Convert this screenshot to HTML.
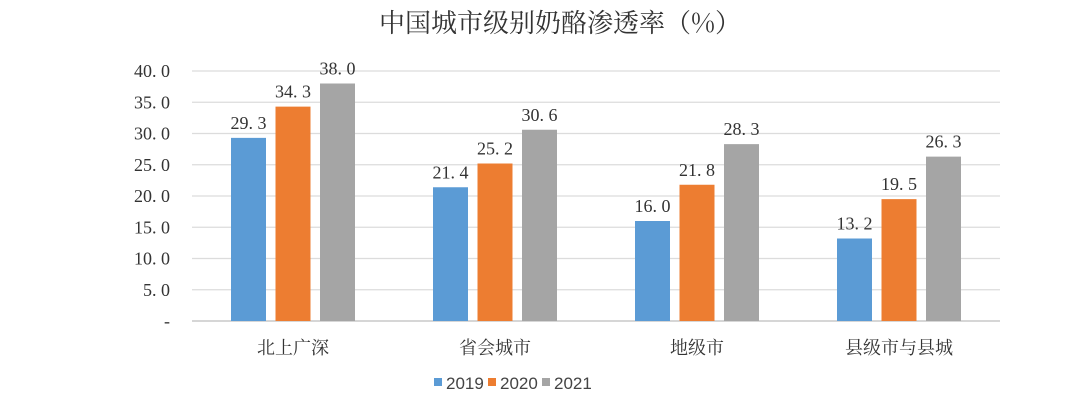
<!DOCTYPE html>
<html><head><meta charset="utf-8">
<style>
html,body{margin:0;padding:0;background:#fff;}
svg{display:block;}
.t{font-family:"Liberation Serif","Noto Serif CJK SC",serif;fill:#333;}
</style></head>
<body>
<svg id="chart" width="1080" height="416" viewBox="0 0 1080 416">
<text class="t" x="560" y="32" text-anchor="middle" font-size="26" style="font-family:'Noto Serif CJK SC',serif" fill="#333">中国城市级别奶酪渗透率（%）</text>
<g id="grid"></g><g id="bars"></g><g id="labels"></g>
<g font-family="Liberation Sans, sans-serif" font-size="17" fill="#444">
<rect x="434" y="378" width="8" height="8" fill="#5b9bd5"/>
<text x="446" y="389">2019</text>
<rect x="488" y="378" width="8" height="8" fill="#ed7d31"/>
<text x="500" y="389">2020</text>
<rect x="542" y="378" width="8" height="8" fill="#a5a5a5"/>
<text x="554" y="389">2021</text>
</g>
</svg>
<script>
const categories=["北上广深","省会城市","地级市","县级市与县城"];
const s2019=[29.3,21.4,16.0,13.2];
const s2020=[34.3,25.2,21.8,19.5];
const s2021=[38.0,30.6,28.3,26.3];
const yTicks=[0,5,10,15,20,25,30,35,40];
const yTickLabels=["-","5. 0","10. 0","15. 0","20. 0","25. 0","30. 0","35. 0","40. 0"];
const NS="http://www.w3.org/2000/svg";
const x0=192,x1=1000,yBase=321,yTop=71,yMax=40;
const y=v=>yBase-(v/yMax)*(yBase-yTop);
const bw=(x1-x0)/categories.length;
const cx=i=>x0+bw*(i+0.5);
function mk(tag,attrs,parent){const e=document.createElementNS(NS,tag);for(const k in attrs)e.setAttribute(k,attrs[k]);document.querySelector(parent).appendChild(e);return e;}
yTicks.forEach((t,i)=>{
 const l=mk('line',{x1:x0,x2:x1,y1:y(t),y2:y(t),stroke:t===0?'#c8c8c8':'#dcdcdc','stroke-width':t===0?1.5:1.2},'#grid');
 
 
 const tx=mk('text',{x:170,y:y(t)+6,'text-anchor':'end','font-size':18,class:'t'},'#labels');
 tx.textContent=yTickLabels[i];
 
 
});
const series=[[s2019,'#5b9bd5','2019'],[s2020,'#ed7d31','2020'],[s2021,'#a5a5a5','2021']];
const barW=35,step=44.5;
categories.forEach((c,i)=>{
 series.forEach((s,j)=>{
  const v=s[0][i];const bx=cx(i)+(j-1)*step-barW/2;
  const r=mk('rect',{x:bx,y:y(v),width:barW,height:yBase-y(v),fill:s[1]},'#bars');
  
  
  const t=mk('text',{x:bx+barW/2,y:y(v)-9,'text-anchor':'middle','font-size':18,class:'t'},'#labels');
  t.textContent=v.toFixed(1).replace('.','. ');
  
  
 });
 const ct=mk('text',{x:cx(i),y:354,'text-anchor':'middle','font-size':18,class:'t',style:"font-family:'Noto Serif CJK SC',serif"},'#labels');
 ct.textContent=c;
 
 
});
</script>
</body></html>
